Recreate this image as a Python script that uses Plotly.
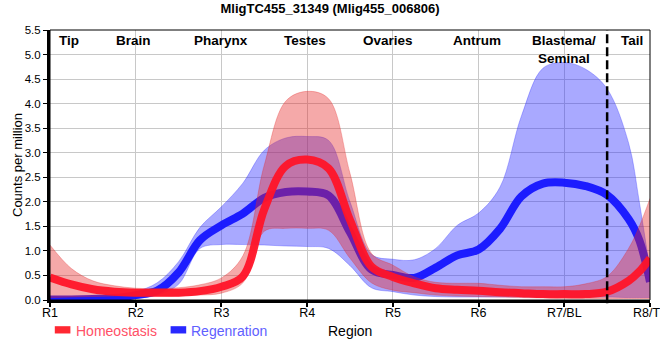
import plotly.graph_objects as go

# x positions (region index, 0 = R1 ... 7 = R8)
x_pos = [0, 0.25, 0.5, 0.75, 1.0, 1.25, 1.5, 1.75, 2.0, 2.25, 2.5, 2.75, 3.0, 3.25, 3.5, 3.75,
         4.0, 4.25, 4.5, 4.75, 5.0, 5.25, 5.5, 5.75, 6.0, 6.25, 6.5, 6.75, 6.875, 7.0]

tick_labels = ["R1", "R2", "R3", "R4", "R5", "R6", "R7/BL", "R8/TL"]
region_names = ["Tip", "Brain", "Pharynx", "Testes", "Ovaries", "Antrum", "Blastema/<br>Seminal", "Tail"]
region_x = [0.22, 0.97, 2.0, 2.97, 3.94, 4.98, 6.0, 6.79]
series_names = ["Homeostasis", "Regenration"]

homeo_mean = [0.46, 0.32, 0.22, 0.17, 0.15, 0.15, 0.15, 0.18, 0.27, 0.48, 1.85, 2.73, 2.86, 2.68, 1.63, 0.68,
              0.47, 0.34, 0.24, 0.21, 0.19, 0.16, 0.14, 0.12, 0.12, 0.12, 0.17, 0.39, 0.58, 0.85]
homeo_upper = [1.12, 0.64, 0.39, 0.29, 0.24, 0.23, 0.25, 0.31, 0.45, 0.90, 2.75, 4.05, 4.25, 4.10, 2.58, 0.95,
               0.71, 0.47, 0.36, 0.34, 0.34, 0.30, 0.27, 0.27, 0.27, 0.33, 0.48, 1.05, 1.50, 2.07]
homeo_lower = [0.05, 0.06, 0.07, 0.08, 0.08, 0.08, 0.08, 0.10, 0.14, 0.35, 1.40, 1.46, 1.46, 1.42, 0.85, 0.35,
               0.20, 0.15, 0.10, 0.08, 0.07, 0.06, 0.05, 0.04, 0.03, 0.03, 0.03, 0.03, 0.03, 0.03]

regen_mean = [0.01, 0.01, 0.02, 0.04, 0.10, 0.19, 0.56, 1.22, 1.52, 1.76, 2.08, 2.20, 2.21, 2.13, 1.38, 0.62,
              0.51, 0.45, 0.66, 0.91, 1.03, 1.45, 2.11, 2.37, 2.39, 2.32, 2.14, 1.65, 1.22, 0.37]
regen_upper = [0.05, 0.05, 0.06, 0.08, 0.17, 0.35, 0.78, 1.48, 1.90, 2.38, 3.05, 3.30, 3.33, 3.25, 2.00, 0.93,
               0.83, 0.82, 1.05, 1.52, 1.77, 2.30, 3.75, 4.72, 4.84, 4.70, 4.30, 3.20, 2.00, 0.60]
regen_lower = [-0.05, -0.05, -0.04, -0.02, 0.03, 0.10, 0.32, 1.05, 1.13, 1.13, 1.12, 1.10, 1.09, 1.05, 0.70, 0.25,
               0.17, 0.10, 0.07, 0.06, 0.06, 0.06, 0.06, 0.06, 0.06, 0.06, 0.06, 0.05, 0.05, 0.05]

RED_BAND = "rgba(230,40,40,0.4)"
BLUE_BAND = "rgba(40,40,255,0.4)"
RED_LINE = "rgba(255,20,40,0.95)"
BLUE_LINE = "rgba(20,20,255,0.95)"
FONT = "Liberation Sans, Arial, sans-serif"

fig = go.Figure()

# Regeneration band + line
fig.add_trace(go.Scatter(x=x_pos, y=regen_upper, mode="lines", line=dict(color="rgba(40,40,255,0.3)", width=1, shape="spline"),
                         showlegend=False, hoverinfo="skip"))
fig.add_trace(go.Scatter(x=x_pos, y=regen_lower, mode="lines", line=dict(color="rgba(40,40,255,0.3)", width=1, shape="spline"),
                         fill="tonexty", fillcolor=BLUE_BAND, showlegend=False, hoverinfo="skip"))
fig.add_trace(go.Scatter(x=x_pos, y=regen_mean, mode="lines", line=dict(color=BLUE_LINE, width=8, shape="spline"),
                         name=series_names[1], showlegend=False))

# Homeostasis band + line
fig.add_trace(go.Scatter(x=x_pos, y=homeo_upper, mode="lines", line=dict(color="rgba(230,40,40,0.3)", width=1, shape="spline"),
                         showlegend=False, hoverinfo="skip"))
fig.add_trace(go.Scatter(x=x_pos, y=homeo_lower, mode="lines", line=dict(color="rgba(230,40,40,0.3)", width=1, shape="spline"),
                         fill="tonexty", fillcolor=RED_BAND, showlegend=False, hoverinfo="skip"))
fig.add_trace(go.Scatter(x=x_pos, y=homeo_mean, mode="lines", line=dict(color=RED_LINE, width=8, shape="spline"),
                         name=series_names[0], showlegend=False))

# region labels
for name, xr in zip(region_names, region_x):
    fig.add_annotation(x=xr, y=1.0, xref="x", yref="paper", yanchor="top", xanchor="center",
                       text="<b>" + name + "</b>", showarrow=False, yshift=-1,
                       font=dict(family=FONT, size=13.5, color="black"))

# custom legend below the plot (swatch + coloured text)
legend_items = [(series_names[0], "rgb(255,40,50)", "#ff5066", 0.008, 0.034, 0.040),
                (series_names[1], "rgb(40,40,255)", "#6060ff", 0.201, 0.227, 0.232)]
for label, sw_col, txt_col, sx0, sx1, tx in legend_items:
    fig.add_shape(type="rect", xref="paper", yref="paper", x0=sx0, x1=sx1, y0=-0.097, y1=-0.124,
                  line=dict(width=0), fillcolor=sw_col)
    fig.add_annotation(x=tx, y=-0.113, xref="paper", yref="paper", xanchor="left", yanchor="middle",
                       text=label, showarrow=False, font=dict(family=FONT, size=14, color=txt_col))

# x-axis title
fig.add_annotation(x=0.5, y=-0.115, xref="paper", yref="paper", xanchor="center", yanchor="middle",
                   text="Region", showarrow=False, font=dict(family=FONT, size=14, color="black"))

# dashed divider between blastema and tail
fig.add_shape(type="line", x0=6.5, x1=6.5, y0=-0.012, y1=1, xref="x", yref="paper",
              line=dict(color="black", width=2.5, dash="9px,4px"))
# thin frame
fig.add_shape(type="rect", x0=0, x1=1, y0=0, y1=1, xref="paper", yref="paper",
              line=dict(color="black", width=1), layer="above")

fig.update_layout(
    width=660, height=360,
    margin=dict(l=50, r=10, t=30, b=60, autoexpand=False),
    paper_bgcolor="white", plot_bgcolor="white",
    font=dict(family=FONT, size=12, color="black"),
    title=dict(text="<b>MligTC455_31349 (Mlig455_006806)</b>", x=0.5, xanchor="center", y=0.988, yanchor="top",
               font=dict(family=FONT, size=13, color="black"), automargin=False),
    showlegend=False,
)
fig.update_xaxes(range=[0, 7], tickmode="array", tickvals=list(range(8)), ticktext=tick_labels,
                 automargin=False, ticklabelstandoff=-5, ticklabeloverflow="allow",
                 showgrid=True, gridcolor="#c8c8c8", gridwidth=1, zeroline=False,
                 showline=True, linecolor="black", linewidth=3, ticks="outside", ticklen=4, tickwidth=2,
                 tickcolor="black", tickfont=dict(family=FONT, size=12.5, color="black"))
fig.update_yaxes(range=[0, 5.5], dtick=0.5, tickformat=".1f", automargin=False,
                 showgrid=True, gridcolor="#c8c8c8", gridwidth=1, zeroline=False,
                 showline=True, linecolor="black", linewidth=3, ticks="outside", ticklen=4, tickwidth=1,
                 tickcolor="black", tickfont=dict(family=FONT, size=11.5, color="black"),
                 title=dict(text="Counts per million", font=dict(family=FONT, size=13), standoff=0))

fig.write_html("out.html", config={"displayModeBar": False},
               post_script="document.body.style.margin='0';document.body.style.overflow='hidden';")
